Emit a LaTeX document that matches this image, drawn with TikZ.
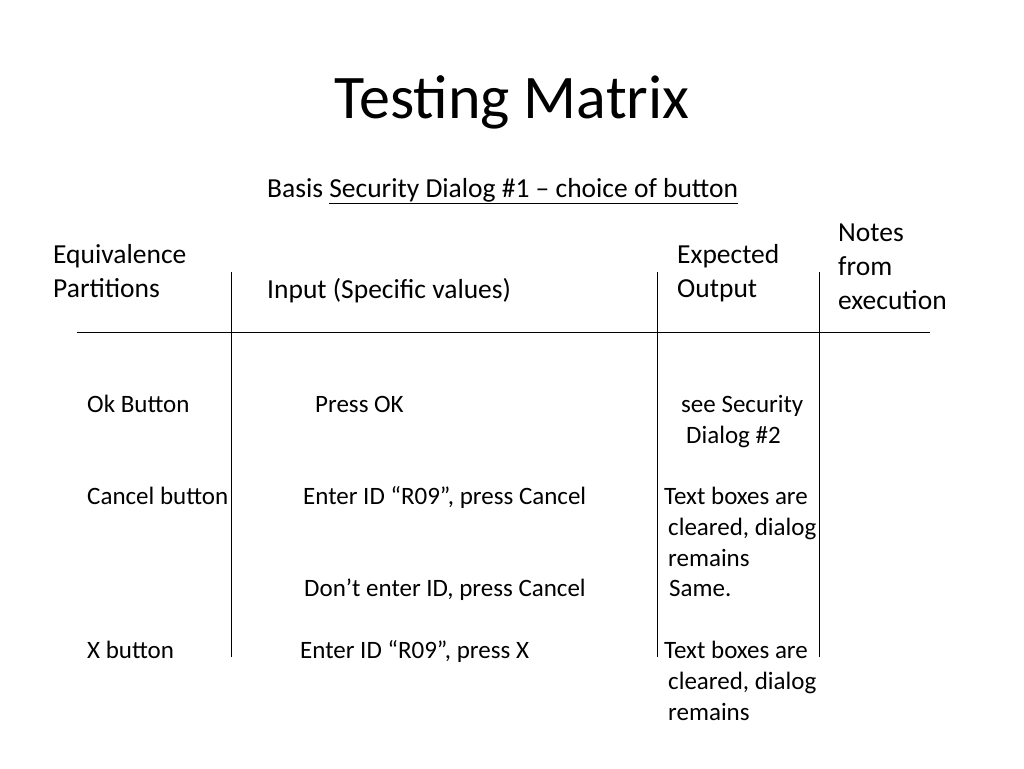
\documentclass[tikz,border=0pt]{standalone}
\usepackage{fontspec}
\setmainfont{Carlito}
\begin{document}
\begin{tikzpicture}[x=1pt,y=-1pt,
  t/.style={anchor=base west,inner sep=0pt,font=\fontsize{27.5}{27.5}\selectfont},
  s/.style={anchor=base west,inner sep=0pt,font=\fontsize{25}{25}\selectfont},
  ln/.style={line width=1pt}]
\useasboundingbox (0,0) rectangle (1024,768);
\node[anchor=base,inner sep=0pt,font=\fontsize{62}{62}\selectfont] (title) at (512,118) {Testing Matrix};
\node[t] (basis) at (267,197) {Basis \underline{Security Dialog \#1 -- choice of button}};
\node[t] (eq1) at (53,263) {Equivalence};
\node[t] (eq2) at (53,297) {Partitions};
\node[t] (inp) at (267,298) {Input (Specific values)};
\node[t] (ex1) at (677,263) {Expected};
\node[t] (ex2) at (677,297) {Output};
\node[t] (n1) at (838,241) {Notes};
\node[t] (n2) at (838,275) {from};
\node[t] (n3) at (838,309) {execution};
\coordinate (hl) at (77,332); \coordinate (hr) at (930,332);
\draw[ln] (hl) -- (hr);
\foreach \x/\n in {231/a,657/b,819/c}{
  \coordinate (\n t) at (\x,272); \coordinate (\n b) at (\x,657);
  \draw[ln] (\n t) -- (\n b);}
\node[s] (r1a) at (87,412) {Ok Button};
\node[s] (r1b) at (315,412) {Press OK};
\node[s] (r1c) at (681,412) {see Security};
\node[s] (r1d) at (686,443) {Dialog \#2};
\node[s] (r2a) at (87,504) {Cancel button};
\node[s] (r2b) at (303,504) {Enter ID “R09”, press Cancel};
\node[s] (r2c) at (664,504) {Text boxes are};
\node[s] (r2d) at (668,535) {cleared, dialog};
\node[s] (r2e) at (668,566) {remains};
\node[s] (r3b) at (304,596) {Don’t enter ID, press Cancel};
\node[s] (r3c) at (669,596) {Same.};
\node[s] (r4a) at (87,658) {X button};
\node[s] (r4b) at (300,658) {Enter ID “R09”, press X};
\node[s] (r4c) at (664,658) {Text boxes are};
\node[s] (r4d) at (668,689) {cleared, dialog};
\node[s] (r4e) at (668,720) {remains};
\end{tikzpicture}
\end{document}
